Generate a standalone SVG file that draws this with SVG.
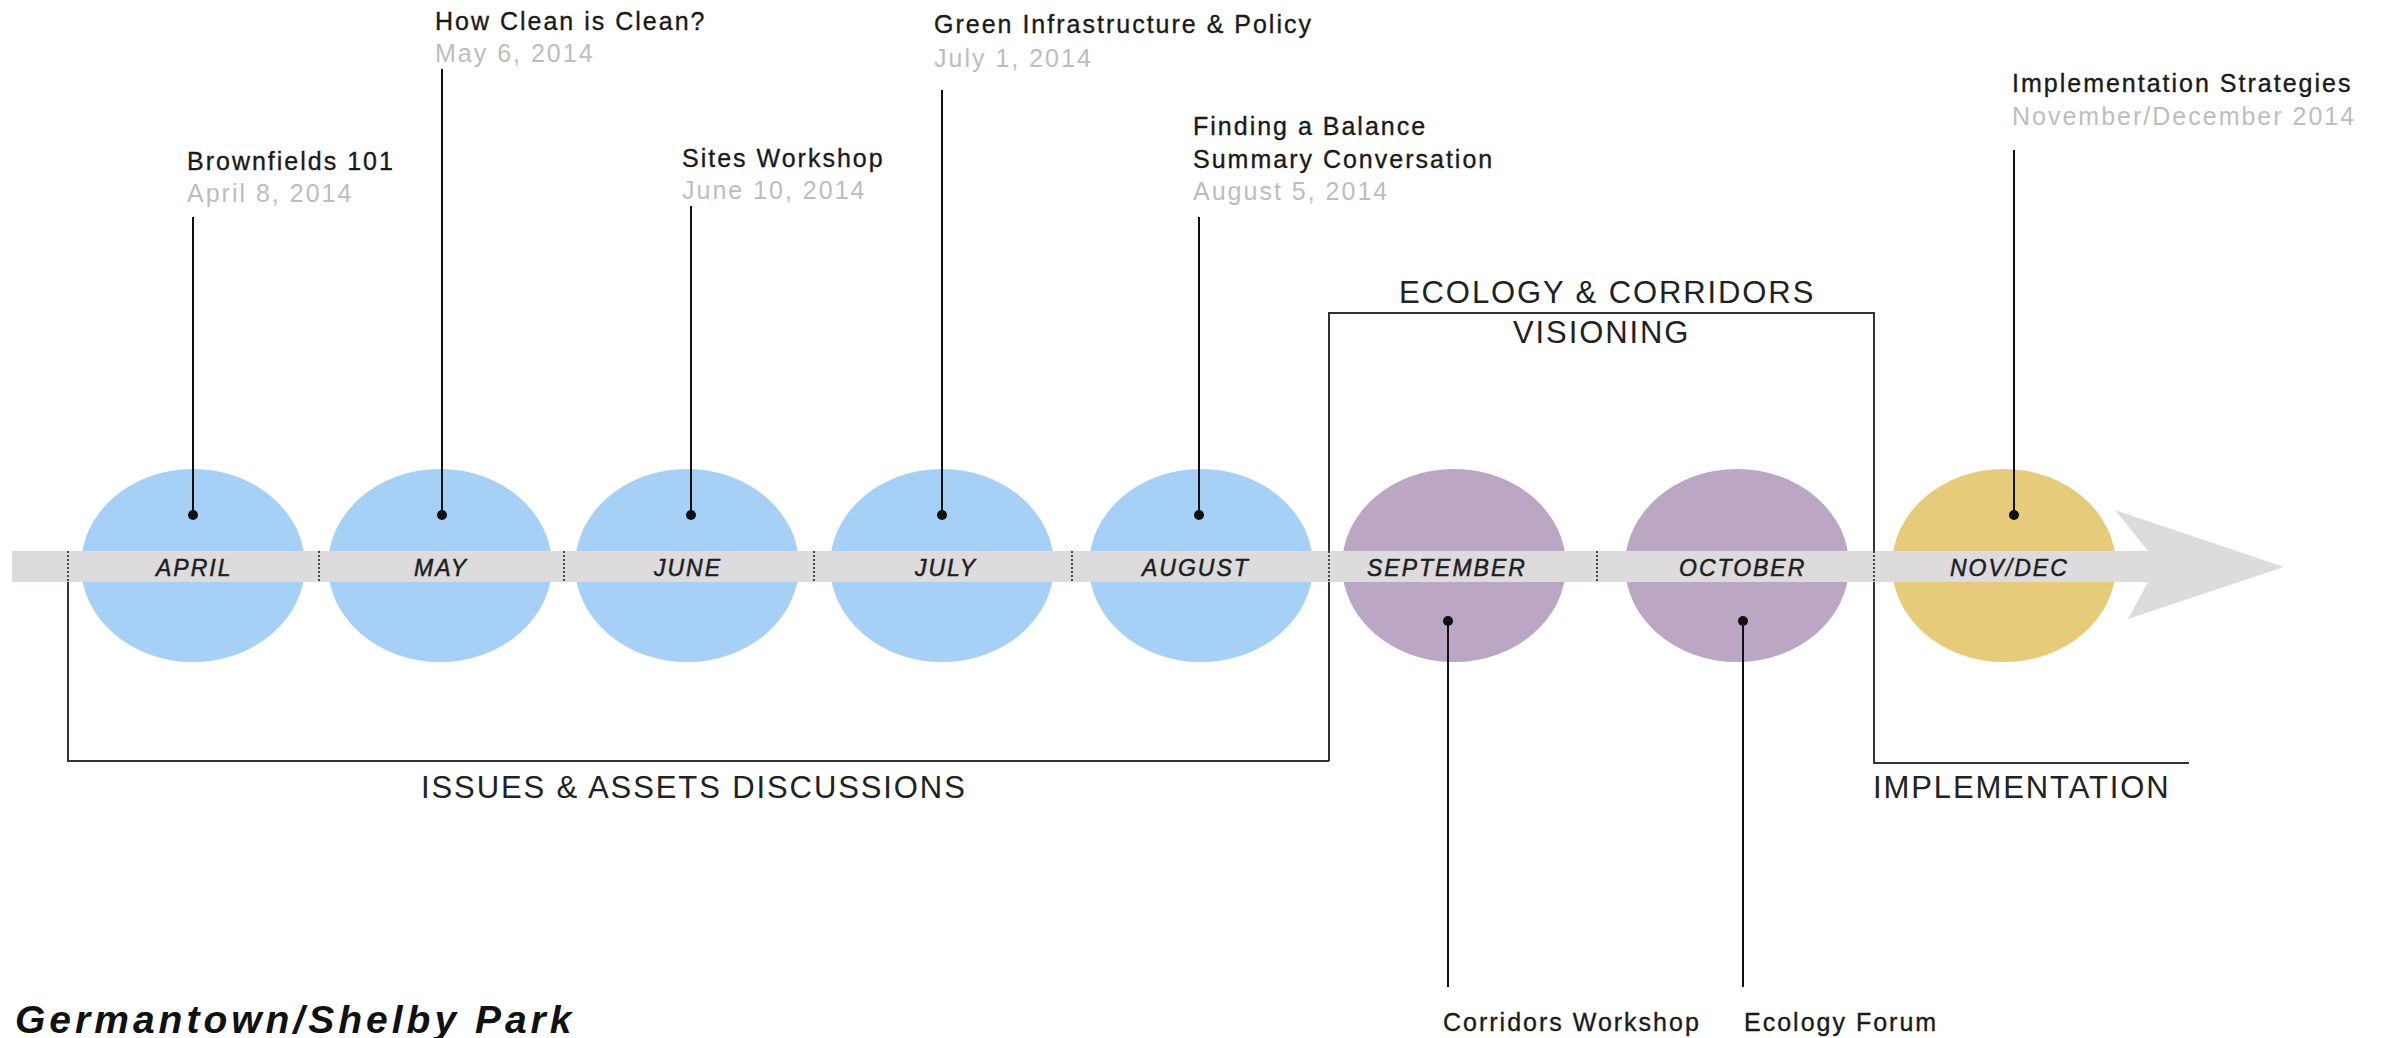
<svg xmlns="http://www.w3.org/2000/svg" width="2392" height="1038" viewBox="0 0 2392 1038">
<style>
.bg{fill:#ffffff}
.blue{fill:#a6d0f5}
.purple{fill:#bba6c4}
.yellow{fill:#e6cc7a}
.band{fill:#dddbdc}
.sep{stroke:#222;stroke-width:1.6;stroke-dasharray:2 2;fill:none}
.br{stroke:#333;stroke-width:2;fill:none}
.pin{stroke:#111;stroke-width:2;fill:none}
.dot{fill:#111}
.month{font-family:"Liberation Sans",Arial,sans-serif;font-style:italic;font-size:23px;letter-spacing:2px;fill:#1e1e1e;stroke:#1e1e1e;stroke-width:0.5px}
.title{font-family:"Liberation Sans",Arial,sans-serif;font-size:25px;letter-spacing:2px;fill:#1a1a1a;stroke:#1a1a1a;stroke-width:0.35px}
.date{font-family:"Liberation Sans",Arial,sans-serif;font-size:25px;letter-spacing:2px;fill:#bdbdbd}
.phase{font-family:"Liberation Sans",Arial,sans-serif;font-size:31px;letter-spacing:1.9px;fill:#222}
.head{font-family:"Liberation Sans",Arial,sans-serif;font-style:italic;font-weight:bold;font-size:39px;letter-spacing:4px;fill:#111}
</style>
<rect class="bg" x="0" y="0" width="2392" height="1038"/>

<g id="connectors">
  <path id="bracket-issues" class="br" d="M68,582 L68,761 L1329,761"/>
  <path id="box-ecology" class="br" d="M1329,761 L1329,313 L1874,313 L1874,763 L2189,763"/>
</g>

<g id="months">
  <g id="april"><ellipse class="blue" cx="193" cy="565.5" rx="112" ry="96.5"/></g>
  <g id="may"><ellipse class="blue" cx="440" cy="565.5" rx="112" ry="96.5"/></g>
  <g id="june"><ellipse class="blue" cx="687" cy="565.5" rx="112" ry="96.5"/></g>
  <g id="july"><ellipse class="blue" cx="942" cy="565.5" rx="112" ry="96.5"/></g>
  <g id="august"><ellipse class="blue" cx="1201" cy="565.5" rx="112" ry="96.5"/></g>
  <g id="september"><ellipse class="purple" cx="1454" cy="565.5" rx="112" ry="96.5"/></g>
  <g id="october"><ellipse class="purple" cx="1737" cy="565.5" rx="112" ry="96.5"/></g>
  <g id="novdec"><ellipse class="yellow" cx="2004" cy="565.5" rx="112" ry="96.5"/></g>
</g>

<g id="timeline">
  <rect class="band" x="12" y="551" width="2137" height="31"/>
  <polygon class="band" points="2115,510 2284,567 2128,619 2148,582 2148,551"/>
  <line class="sep" x1="68" y1="551" x2="68" y2="582"/>
  <line class="sep" x1="319" y1="551" x2="319" y2="582"/>
  <line class="sep" x1="564" y1="551" x2="564" y2="582"/>
  <line class="sep" x1="814" y1="551" x2="814" y2="582"/>
  <line class="sep" x1="1072" y1="551" x2="1072" y2="582"/>
  <line class="sep" x1="1329" y1="551" x2="1329" y2="582"/>
  <line class="sep" x1="1597" y1="551" x2="1597" y2="582"/>
  <line class="sep" x1="1874" y1="551" x2="1874" y2="582"/>
</g>

<g id="month-labels">
  <text class="month" x="156" y="576">APRIL</text>
  <text class="month" x="414" y="576">MAY</text>
  <text class="month" x="654" y="576">JUNE</text>
  <text class="month" x="915" y="576">JULY</text>
  <text class="month" x="1142" y="576">AUGUST</text>
  <text class="month" x="1367" y="576">SEPTEMBER</text>
  <text class="month" x="1679" y="576">OCTOBER</text>
  <text class="month" x="1950" y="576">NOV/DEC</text>
</g>

<g id="pins">
  <line class="pin" x1="193" y1="217" x2="193" y2="515"/><circle class="dot" cx="193" cy="515" r="5"/>
  <line class="pin" x1="442" y1="69" x2="442" y2="515"/><circle class="dot" cx="442" cy="515" r="5"/>
  <line class="pin" x1="691" y1="206" x2="691" y2="515"/><circle class="dot" cx="691" cy="515" r="5"/>
  <line class="pin" x1="942" y1="90" x2="942" y2="515"/><circle class="dot" cx="942" cy="515" r="5"/>
  <line class="pin" x1="1199" y1="217" x2="1199" y2="515"/><circle class="dot" cx="1199" cy="515" r="5"/>
  <line class="pin" x1="2014" y1="150" x2="2014" y2="515"/><circle class="dot" cx="2014" cy="515" r="5"/>
  <line class="pin" x1="1448" y1="621" x2="1448" y2="987"/><circle class="dot" cx="1448" cy="621" r="5"/>
  <line class="pin" x1="1743" y1="621" x2="1743" y2="987"/><circle class="dot" cx="1743" cy="621" r="5"/>
</g>

<g id="event-brownfields">
  <text class="title" x="187" y="170">Brownfields 101</text>
  <text class="date" x="187" y="202">April 8, 2014</text>
</g>
<g id="event-howclean">
  <text class="title" x="435" y="30">How Clean is Clean?</text>
  <text class="date" x="435" y="62">May 6, 2014</text>
</g>
<g id="event-sites">
  <text class="title" x="682" y="167">Sites Workshop</text>
  <text class="date" x="682" y="199">June 10, 2014</text>
</g>
<g id="event-green">
  <text class="title" x="934" y="33">Green Infrastructure &amp; Policy</text>
  <text class="date" x="934" y="67">July 1, 2014</text>
</g>
<g id="event-balance">
  <text class="title" x="1193" y="135">Finding a Balance</text>
  <text class="title" x="1193" y="168">Summary Conversation</text>
  <text class="date" x="1193" y="200">August 5, 2014</text>
</g>
<g id="event-implementation">
  <text class="title" x="2012" y="92">Implementation Strategies</text>
  <text class="date" x="2012" y="125">November/December 2014</text>
</g>
<g id="event-corridors">
  <text class="title" x="1443" y="1031">Corridors Workshop</text>
</g>
<g id="event-ecology">
  <text class="title" x="1744" y="1031">Ecology Forum</text>
</g>

<g id="phase-labels">
  <text class="phase" x="421" y="798">ISSUES &amp; ASSETS DISCUSSIONS</text>
  <text class="phase" x="1399" y="303">ECOLOGY &amp; CORRIDORS</text>
  <text class="phase" x="1513" y="343">VISIONING</text>
  <text class="phase" x="1873" y="798">IMPLEMENTATION</text>
</g>

<g id="heading">
  <text class="head" x="15" y="1033">Germantown/Shelby Park</text>
</g>
</svg>
